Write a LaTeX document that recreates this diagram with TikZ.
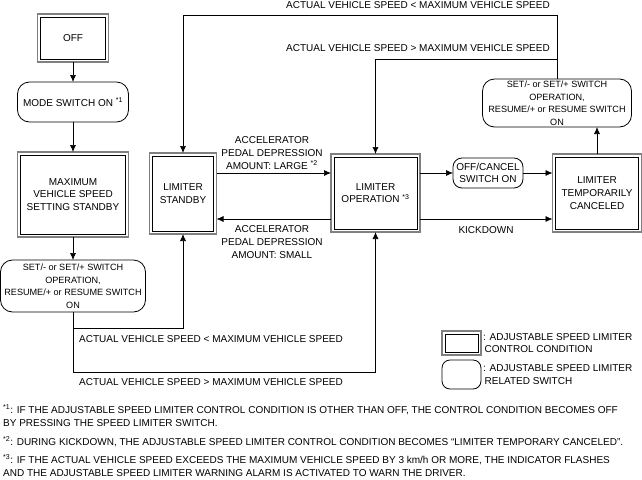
\documentclass[tikz,border=0pt]{standalone}
\usepackage{fontspec}
\setmainfont{Liberation Sans}
\usetikzlibrary{arrows.meta}
\newcommand\dfs{\fontsize{10}{12.7}\selectfont}
\newcommand\sfs{\fontsize{9.1}{12.5}\selectfont}
\begin{document}
\begin{tikzpicture}[x=1pt,y=-1pt,
  ctrl/.style={draw=black!50, line width=1.3pt, inner sep=0pt, outer sep=0pt, align=center, font=\dfs,
    append after command={\pgfextra{\draw[black,line width=0.7pt]
      ([xshift=3pt,yshift=-3pt]\tikzlastnode.north west) rectangle
      ([xshift=-3pt,yshift=3pt]\tikzlastnode.south east);}}},
  switch/.style={draw=black, line width=0.8pt, rounded corners=12pt, inner sep=0pt, outer sep=0pt, align=center, font=\dfs},
  lbl/.style={inner sep=0pt, align=center, font=\dfs},
  fn/.style={inner sep=0pt, anchor=base west, font=\dfs},
  arr/.style={draw=black, line width=0.7pt, -{Latex[length=7pt,width=6pt]}},
  ln/.style={draw=black, line width=0.7pt}]
\useasboundingbox (0,0) rectangle (642,479);

% nodes
\node[ctrl, minimum width=71pt, minimum height=48pt] (off) at (73,38) {OFF};
\node[switch, minimum width=111pt, minimum height=40pt] (mode) at (73,102) {MODE SWITCH ON \textsuperscript{*1}};
\node[ctrl, minimum width=111pt, minimum height=85pt] (maxstd) at (73,194.5) {MAXIMUM\\VEHICLE SPEED\\SETTING STANDBY};
\node[switch, font=\sfs, minimum width=145pt, minimum height=52pt] (setL) at (73,286) {SET/- or SET/+ SWITCH\\OPERATION,\\RESUME/+ or RESUME SWITCH\\ON};
\node[ctrl, minimum width=67pt, minimum height=81pt] (lstd) at (183,193.5) {LIMITER\\STANDBY};
\node[ctrl, minimum width=89pt, minimum height=78pt] (lop) at (375.5,193) {LIMITER\\OPERATION \textsuperscript{*3}};
\node[switch, rounded corners=9pt, minimum width=70pt, minimum height=30pt] (offc) at (488,173) {OFF/CANCEL\\SWITCH ON};
\node[ctrl, minimum width=89pt, minimum height=78pt] (ltc) at (597,193) {LIMITER\\TEMPORARILY\\CANCELED};
\node[switch, font=\sfs, minimum width=149pt, minimum height=48pt] (setR) at (557,103) {SET/- or SET/+ SWITCH\\OPERATION,\\RESUME/+ or RESUME SWITCH\\ON};

% legend
\node[ctrl, minimum width=39pt, minimum height=24pt] (legC) at (461.5,343) {};
\node[switch, rounded corners=8pt, minimum width=39pt, minimum height=29pt] (legS) at (461.5,374.5) {};
\node[lbl, anchor=west, align=left] (legCt) at (483,343) {: ADJUSTABLE SPEED LIMITER\\\hspace*{1.5pt}CONTROL CONDITION};
\node[lbl, anchor=west, align=left] (legSt) at (483,374.5) {: ADJUSTABLE SPEED LIMITER\\\hspace*{1.5pt}RELATED SWITCH};

% helper coordinates
\coordinate (ya) at (0,173);
\coordinate (yb) at (0,219);
\coordinate (c1) at (73,328);
\coordinate (c2) at (73,372);
\coordinate (t1) at (557,15);
\coordinate (t2) at (557,59);

% connectors
\draw[arr] (off) -- (mode);
\draw[arr] (mode) -- (maxstd);
\draw[arr] (maxstd) -- (setL);
\draw[arr] (setL.south) -- (c1) -| (lstd.south);
\draw[arr] (c1) -- (c2) -| (lop.south);
\draw[arr] (setR.north) -- (t1) -| (lstd.north);
\draw[arr] (t2) -| (lop.north);
\draw[arr] (lstd.east |- ya) -- (lop.west |- ya);
\draw[arr] (lop.west |- yb) -- (lstd.east |- yb);
\draw[arr] (lop.east |- offc) -- (offc.west);
\draw[arr] (offc.east) -- (ltc.west |- offc);
\draw[arr] (lop.east |- yb) -- (ltc.west |- yb);
\draw[arr] (ltc.north) -- (ltc.north |- setR.south);

% labels
\node[lbl, anchor=east] (l1) at (550,5) {ACTUAL VEHICLE SPEED < MAXIMUM VEHICLE SPEED};
\node[lbl, anchor=east] (l2) at (550,48) {ACTUAL VEHICLE SPEED > MAXIMUM VEHICLE SPEED};
\node[lbl] (l3) at (272,153) {ACCELERATOR\\PEDAL DEPRESSION\\AMOUNT: LARGE \textsuperscript{*2}};
\node[lbl] (l4) at (272,242) {ACCELERATOR\\PEDAL DEPRESSION\\AMOUNT: SMALL};
\node[lbl] (l5) at (486,230) {KICKDOWN};
\node[lbl, anchor=west] (l6) at (79,339) {ACTUAL VEHICLE SPEED < MAXIMUM VEHICLE SPEED};
\node[lbl, anchor=west] (l7) at (79,382) {ACTUAL VEHICLE SPEED > MAXIMUM VEHICLE SPEED};

% footnotes
\node[fn] (f1) at (3,413.6) {\textsuperscript{*1}: IF THE ADJUSTABLE SPEED LIMITER CONTROL CONDITION IS OTHER THAN OFF, THE CONTROL CONDITION BECOMES OFF};
\node[fn] (f1b) at (3,426.6) {BY PRESSING THE SPEED LIMITER SWITCH.};
\node[fn] (f2) at (3,445.6) {\textsuperscript{*2}: DURING KICKDOWN, THE ADJUSTABLE SPEED LIMITER CONTROL CONDITION BECOMES “LIMITER TEMPORARY CANCELED”.};
\node[fn] (f3) at (3,463.6) {\textsuperscript{*3}: IF THE ACTUAL VEHICLE SPEED EXCEEDS THE MAXIMUM VEHICLE SPEED BY 3 km/h OR MORE, THE INDICATOR FLASHES};
\node[fn] (f3b) at (3,476.6) {AND THE ADJUSTABLE SPEED LIMITER WARNING ALARM IS ACTIVATED TO WARN THE DRIVER.};
\end{tikzpicture}
\end{document}
